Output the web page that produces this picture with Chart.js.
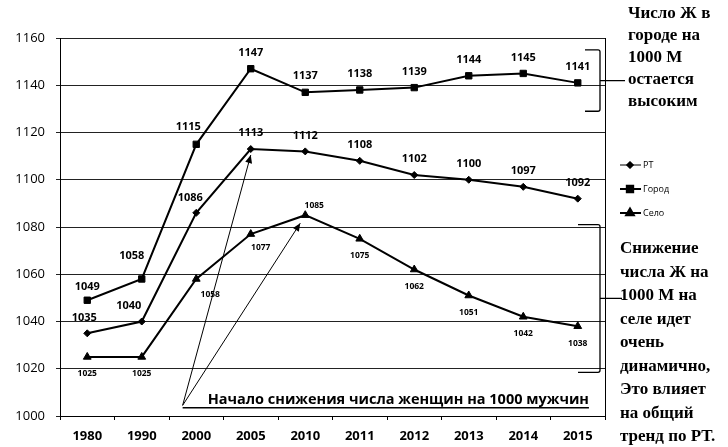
<!DOCTYPE html>
<html>
<head>
<meta charset="utf-8">
<script src="https://cdn.jsdelivr.net/npm/chart.js@4.4.0/dist/chart.umd.min.js"></script>
<style>
html, body { margin: 0; padding: 0; background: #fff; }
#wrap { width: 728px; height: 447px; }
</style>
</head>
<body>
<div id="wrap"><canvas id="graph"></canvas></div>
<script>
const years = ['1980', '1990', '2000', '2005', '2010', '2011', '2012', '2013', '2014', '2015'];
const rt    = [1035, 1040, 1086, 1113, 1112, 1108, 1102, 1100, 1097, 1092];
const gorod = [1049, 1058, 1115, 1147, 1137, 1138, 1139, 1144, 1145, 1141];
const selo  = [1025, 1025, 1058, 1077, 1085, 1075, 1062, 1051, 1042, 1038];

const yMin = 1000, yMax = 1160, yStep = 20;

const noteTop = ['Число Ж в', 'городе на', '1000 М', 'остается', 'высоким'];
const noteBottom = ['Снижение', 'числа Ж на', '1000 М на', 'селе идет', 'очень', 'динамично,', 'Это влияет', 'на общий', 'тренд по РТ.'];
const arrowText = 'Начало снижения числа женщин на 1000 мужчин';

// label shifts per dataset: [dx, dy] default + exceptions by index
const labelShift = [
    { def: [0, -16], font: 'bold 11px "Open Sans"', at: { 0: [-3, -15], 1: [-13, -16], 2: [-6, -15] } },
    { def: [0, -16], font: 'bold 11px "Open Sans"', at: { 0: [0, -13], 1: [-10, -23], 2: [-8, -17] } },
    { def: [0, 17], font: 'bold 8.5px "Open Sans"', at: { 2: [14, 16], 3: [10, 13], 4: [9, -10] } }
];

function arrow(ctx, x0, y0, x1, y1) {
    ctx.beginPath();
    ctx.moveTo(x0, y0);
    ctx.lineTo(x1, y1);
    ctx.stroke();
    const ang = Math.atan2(y1 - y0, x1 - x0);
    const L = 8, W = 3.5;
    ctx.beginPath();
    ctx.moveTo(x1, y1);
    ctx.lineTo(x1 - L * Math.cos(ang) + W * Math.sin(ang), y1 - L * Math.sin(ang) - W * Math.cos(ang));
    ctx.lineTo(x1 - L * Math.cos(ang) - W * Math.sin(ang), y1 - L * Math.sin(ang) + W * Math.cos(ang));
    ctx.closePath();
    ctx.fill();
}

function bracket(ctx, xl, xr, yt, yb, tickTo) {
    const ym = (yt + yb) / 2;
    ctx.beginPath();
    ctx.moveTo(xl, yt);
    ctx.lineTo(xr - 2, yt);
    ctx.quadraticCurveTo(xr, yt, xr, yt + 2);
    ctx.lineTo(xr, yb - 2);
    ctx.quadraticCurveTo(xr, yb, xr - 2, yb);
    ctx.lineTo(xl, yb);
    ctx.moveTo(xr, ym);
    ctx.lineTo(tickTo, ym);
    ctx.stroke();
}

const notes = {
    id: 'notes',
    afterDatasetsDraw(chart) {
        const { ctx, chartArea: a, scales: { x, y } } = chart;
        ctx.save();
        ctx.strokeStyle = '#000';
        ctx.fillStyle = '#000';

        // right frame
        ctx.lineWidth = 1;
        ctx.beginPath();
        ctx.moveTo(a.right + 0.5, a.top);
        ctx.lineTo(a.right + 0.5, a.bottom);
        ctx.stroke();

        // value labels
        ctx.textAlign = 'center';
        ctx.textBaseline = 'middle';
        chart.data.datasets.forEach((ds, di) => {
            const s = labelShift[di];
            ctx.font = s.font;
            chart.getDatasetMeta(di).data.forEach((pt, i) => {
                const d = s.at[i] || s.def;
                ctx.fillText(String(ds.data[i]), pt.x + d[0], pt.y + d[1]);
            });
        });

        // arrows to the start of decline
        const ox = (x.getPixelForValue(1) + 3 * x.getPixelForValue(2)) / 4;
        const oy = y.getPixelForValue(1004.5);
        ctx.lineWidth = 1;
        const p1 = chart.getDatasetMeta(0).data[3];
        const p2 = chart.getDatasetMeta(2).data[4];
        arrow(ctx, ox, oy, p1.x, p1.y + 6);
        arrow(ctx, ox, oy, p2.x - 5, p2.y + 8);
        ctx.font = 'bold 14.5px "Open Sans"';
        ctx.textAlign = 'left';
        ctx.textBaseline = 'alphabetic';
        ctx.fillText(arrowText, ox + 25, oy - 1);
        const tw = ctx.measureText(arrowText).width;
        ctx.lineWidth = 1.5;
        ctx.beginPath();
        ctx.moveTo(ox, oy + 2.5);
        ctx.lineTo(ox + 25 + tw, oy + 2.5);
        ctx.stroke();

        // brackets
        ctx.lineWidth = 1.3;
        bracket(ctx, a.right - 20, a.right - 5, y.getPixelForValue(1155), y.getPixelForValue(1129), a.right + 20);
        bracket(ctx, a.right - 27, a.right - 5, y.getPixelForValue(1081), y.getPixelForValue(1018.5), a.right + 17);

        // legend
        ctx.font = '9px "Open Sans"';
        ctx.textBaseline = 'middle';
        chart.data.datasets.forEach((ds, di) => {
            const ly = 165 + di * 24;
            const lx = a.right + 15;
            ctx.lineWidth = di === 0 ? 1 : 2;
            ctx.beginPath();
            ctx.moveTo(lx, ly);
            ctx.lineTo(lx + 21, ly);
            ctx.stroke();
            Chart.helpers.drawPoint(ctx, { pointStyle: ds.pointStyle, radius: ds.pointRadius, borderWidth: 1 }, lx + 10, ly);
            ctx.fill();
            ctx.fillText(ds.label, lx + 23, ly);
        });

        // side notes
        ctx.font = 'bold 17px "Liberation Serif"';
        ctx.textBaseline = 'alphabetic';
        noteTop.forEach((t, i) => ctx.fillText(t, a.right + 23, 18 + i * 22));
        noteBottom.forEach((t, i) => ctx.fillText(t, a.right + 15, 253 + i * 23.5));
        ctx.restore();
    }
};

const mk = (label, data, style, r) => ({
    label: label,
    data: data,
    borderColor: '#000',
    backgroundColor: '#000',
    borderWidth: 2,
    pointStyle: style,
    pointRadius: r,
    pointBorderWidth: 1,
    tension: 0
});

new Chart(document.getElementById('graph'), {
    type: 'line',
    data: {
        labels: years,
        datasets: [
            mk('РТ', rt, 'rectRot', 3.5),
            mk('Город', gorod, 'rect', 4.5),
            mk('Село', selo, 'triangle', 4.5)
        ]
    },
    options: {
        responsive: true,
        maintainAspectRatio: false,
        animation: false,
        layout: { padding: { left: 0, right: 123, top: 38, bottom: 0 } },
        plugins: { legend: { display: false }, tooltip: { enabled: false } },
        scales: {
            x: {
                offset: true,
                afterFit: (s) => { s.height = 31; },
                grid: { display: true, offset: true, drawOnChartArea: false, tickLength: 4, color: '#000' },
                border: { color: '#000', width: 1 },
                ticks: { color: '#000', padding: 8, font: { family: 'Open Sans', size: 13, weight: 'bold' } }
            },
            y: {
                min: yMin,
                max: yMax,
                afterFit: (s) => { s.width = 60; },
                grid: { color: '#222', lineWidth: 1, tickLength: 4 },
                border: { color: '#000', width: 1 },
                ticks: {
                    stepSize: yStep,
                    color: '#000',
                    padding: 11,
                    font: { family: 'Open Sans', size: 13 },
                    callback: (v) => String(v)
                }
            }
        }
    },
    plugins: [notes]
});
</script>
</body>
</html>
